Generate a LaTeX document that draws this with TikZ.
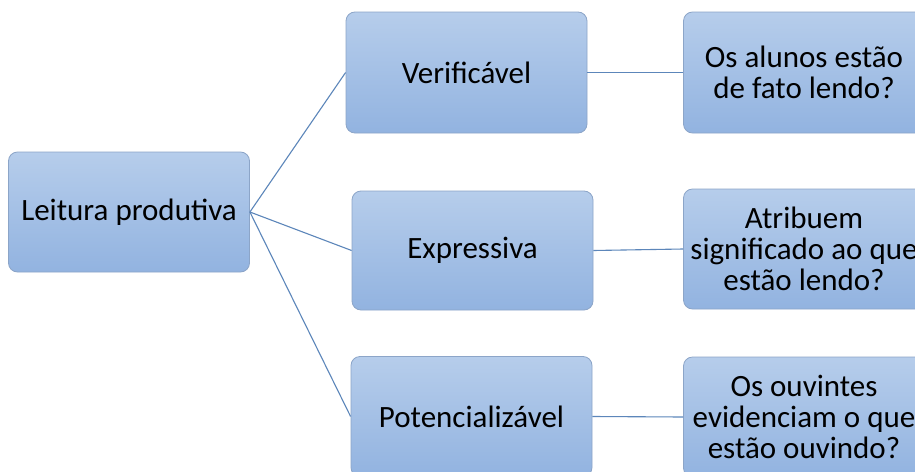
\documentclass[tikz,border=0pt]{standalone}
\usepackage{fontspec}
\setmainfont{Carlito}
\definecolor{boxtop}{RGB}{182,205,235}
\definecolor{boxbot}{RGB}{146,179,224}
\definecolor{boxline}{RGB}{140,165,200}
\definecolor{linkcol}{RGB}{92,134,186}
\tikzset{
  box/.style={rectangle, rounded corners=9pt, draw=boxline, line width=0.8pt,
    top color=boxtop, bottom color=boxbot, minimum width=241pt, minimum height=120pt,
    inner sep=0pt, align=center, text=black, font=\fontsize{31}{33}\selectfont},
  qbox/.style={box, font=\fontsize{31}{31}\selectfont},
  link/.style={draw=linkcol, line width=1.1pt}
}
\begin{document}
\begin{tikzpicture}[x=1pt,y=-1pt]
\useasboundingbox (0,0) rectangle (915,471);
\fill[white] (0,0) rectangle (915,471);
\clip (0,0) rectangle (915,471);
\node[box] (root) at (129,212) {Leitura produtiva};
\node[box, minimum height=121pt] (ver) at (466.5,72.5) {Verificável};
\node[box, minimum height=119pt] (exp) at (472.5,250.5) {Expressiva};
\node[box] (pot) at (471.5,416.5) {Potencializável};
\node[qbox, minimum height=121pt] (q1) at (804,72.5) {Os alunos estão\\de fato lendo?};
\node[qbox] (q2) at (804,249) {Atribuem\\significado ao que\\estão lendo?};
\node[qbox] (q3) at (804,417) {Os ouvintes\\evidenciam o que\\estão ouvindo?};
\draw[link] (root.east) -- (ver.west);
\draw[link] (root.east) -- (exp.west);
\draw[link] (root.east) -- (pot.west);
\draw[link] (ver.east) -- (q1.west);
\draw[link] (exp.east) -- (q2.west);
\draw[link] (pot.east) -- (q3.west);
\end{tikzpicture}
\end{document}
